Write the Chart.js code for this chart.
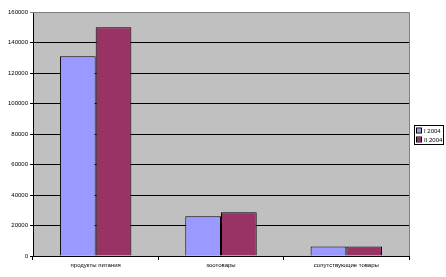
<!DOCTYPE html>
<html><head><meta charset="utf-8">
<script src="https://cdn.jsdelivr.net/npm/chart.js@4/dist/chart.umd.min.js"></script>
<style>html,body{margin:0;padding:0;background:#fff}#wrap{width:446px;height:277px;position:relative}</style>
</head><body><div id="wrap"><canvas id="c" width="446" height="277"></canvas></div>
<script>
const categories = ["продукты питания", "зоотовары", "сопутствующие товары"];
const seriesNames = ["I 2004", "II 2004"];
const seriesI = [131000, 26000, 6300];
const seriesII = [150000, 28700, 6200];
const yTicks = [0, 20000, 40000, 60000, 80000, 100000, 120000, 140000, 160000];

const FONT = {family: "'Liberation Sans', Arial, sans-serif", size: 6};

const plotBg = {
  id: 'plotBg',
  beforeDraw(chart) {
    const {ctx, chartArea: a} = chart;
    ctx.save();
    ctx.fillStyle = '#c0c0c0';
    ctx.fillRect(a.left, a.top, a.right - a.left, a.bottom - a.top);
    ctx.restore();
  },
  afterDraw(chart) {
    const {ctx, chartArea: a} = chart;
    ctx.save();
    ctx.strokeStyle = '#808080';
    ctx.lineWidth = 1;
    ctx.beginPath();
    ctx.moveTo(a.left, a.top + 0.5);
    ctx.lineTo(a.right + 0.5, a.top + 0.5);
    ctx.lineTo(a.right + 0.5, a.bottom);
    ctx.stroke();
    // legend
    const lx = 414, ly = 125, lw = 29, lh = 19;
    ctx.fillStyle = '#fff';
    ctx.fillRect(lx, ly, lw, lh);
    ctx.strokeStyle = '#000';
    ctx.strokeRect(lx + 0.5, ly + 0.5, lw, lh);
    ctx.font = "6px 'Liberation Sans', Arial, sans-serif";
    ctx.textBaseline = 'middle';
    chart.data.datasets.forEach((ds, i) => {
      const y = ly + 5.5 + i * 9;
      ctx.fillStyle = ds.backgroundColor;
      ctx.fillRect(lx + 3, y - 2, 4, 4);
      ctx.strokeStyle = '#000';
      ctx.strokeRect(lx + 2.5, y - 2.5, 5, 5);
      ctx.fillStyle = '#000';
      ctx.fillText(ds.label, lx + 10, y + 0.5);
    });
    ctx.restore();
  }
};

new Chart(document.getElementById('c'), {
  type: 'bar',
  data: {
    labels: categories,
    datasets: [
      {label: seriesNames[0], data: seriesI, backgroundColor: '#9999ff', borderColor: '#000', borderWidth: 1},
      {label: seriesNames[1], data: seriesII, backgroundColor: '#993366', borderColor: '#000', borderWidth: 1}
    ]
  },
  options: {
    responsive: false,
    animation: false,
    devicePixelRatio: 1,
    layout: {padding: {top: 12, right: 37, left: 0, bottom: 0}},
    plugins: {legend: {display: false}, tooltip: {enabled: false}},
    datasets: {bar: {categoryPercentage: 0.57, barPercentage: 1.0}},
    scales: {
      x: {
        offset: true,
        grid: {offset: true, drawOnChartArea: false, color: '#000', tickLength: 4},
        border: {color: '#000', width: 1},
        ticks: {color: '#000', font: FONT, maxRotation: 0, autoSkip: false, padding: 2},
        afterFit(s) { s.height = 21; }
      },
      y: {
        min: 0, max: 160000,
        afterBuildTicks(s) { s.ticks = yTicks.map(v => ({value: v})); },
        grid: {color: ctx => (ctx.tick && ctx.tick.value === 160000) ? '#808080' : '#000', tickLength: 3, lineWidth: 1},
        border: {color: '#000', width: 1},
        ticks: {color: '#000', font: FONT, padding: 2, callback: v => String(v)},
        afterFit(s) { s.width = 33; }
      }
    }
  },
  plugins: [plotBg]
});
</script></body></html>
